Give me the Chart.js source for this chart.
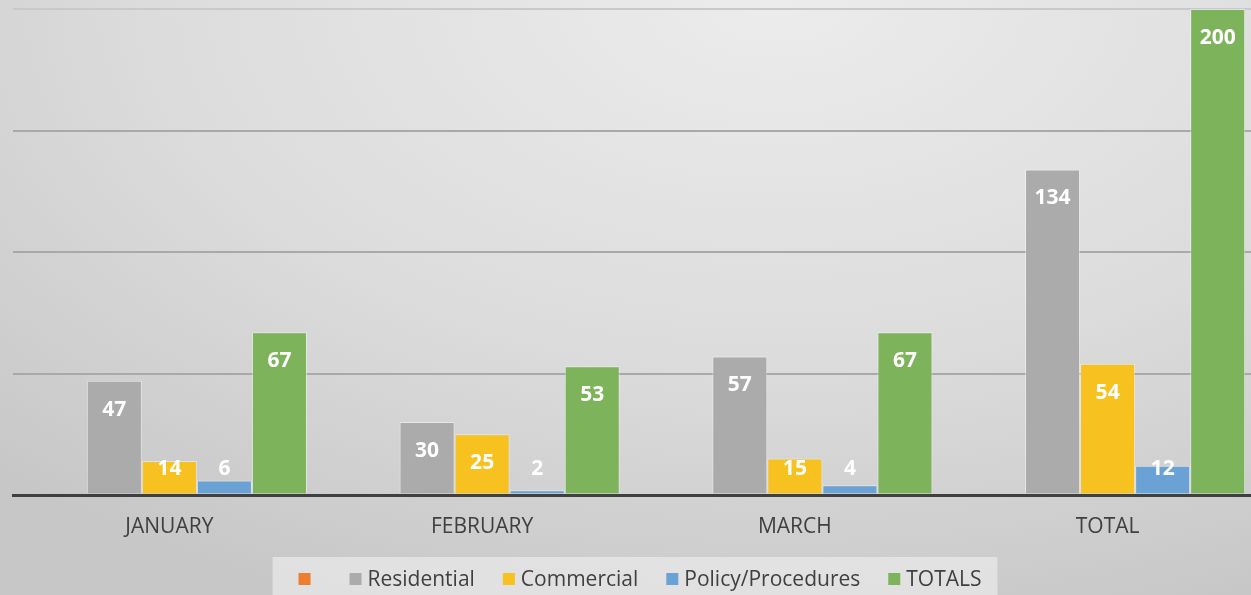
<!DOCTYPE html>
<html>
<head>
<meta charset="utf-8">
<script src="https://cdn.jsdelivr.net/npm/chart.js@4.4.1/dist/chart.umd.min.js"></script>
<style>
  html, body { margin: 0; padding: 0; overflow: hidden; }
  body {
    width: 1251px; height: 595px;
    background: radial-gradient(ellipse 90% 110% at 62% 0%, #ececec 0%, #dcdcdc 55%, #c7c7c7 100%);
  }
  #wrap { width: 1264px; height: 595px; position: relative; }
</style>
</head>
<body>
<div id="wrap"><canvas id="chart"></canvas></div>
<script>
const categories = ["JANUARY", "FEBRUARY", "MARCH", "TOTAL"];
const seriesNames = ["", "Residential", "Commercial", "Policy/Procedures", "TOTALS"];
const blank = [null, null, null, null];
const residential = [47, 30, 57, 134];
const commercial = [14, 25, 15, 54];
const policy = [6, 2, 4, 12];
const totals = [67, 53, 67, 200];
const colors = ["#ED7D31", "#ABABAB", "#F7C120", "#6AA2D5", "#7DB35A"];

const allValues = [blank, residential, commercial, policy, totals];

// white labels inside the top of each bar
const barLabels = {
  id: "barLabels",
  afterDatasetsDraw(chart) {
    const ctx = chart.ctx;
    ctx.save();
    ctx.font = "bold 21px 'Open Sans'";
    ctx.fillStyle = "#ffffff";
    ctx.textAlign = "center";
    ctx.textBaseline = "middle";
    chart.data.datasets.forEach((ds, i) => {
      chart.getDatasetMeta(i).data.forEach((bar, j) => {
        const v = ds.data[j];
        if (v == null) return;
        const y = Math.min(bar.y + 29, bar.base - 24);
        ctx.fillText(String(v), bar.x, y);
      });
    });
    ctx.restore();
  },
};

// legend drawn by hand in a gray box
const boxLegend = {
  id: "boxLegend",
  afterDraw(chart) {
    const ctx = chart.ctx;
    ctx.save();
    ctx.font = "21px 'Open Sans'";
    const box = 12, gap = 6, spacing = 28;
    const widths = seriesNames.map(n => box + (n ? gap + ctx.measureText(n).width : 11));
    const total = widths.reduce((a, b) => a + b, 0) + spacing * (widths.length - 1);
    const cx = 640;
    let x = cx - total / 2;
    ctx.fillStyle = "rgba(232,232,232,0.75)";
    ctx.fillRect(x - 26, 557, total + 26 + 16, 45);
    const cy = 579;
    ctx.textBaseline = "middle";
    seriesNames.forEach((n, i) => {
      ctx.fillStyle = colors[i];
      ctx.fillRect(x, cy - 6, box, box);
      if (n) {
        ctx.fillStyle = "#404040";
        ctx.fillText(n, x + box + gap, cy + 1);
      }
      x += widths[i] + spacing;
    });
    ctx.restore();
  },
};

new Chart(document.getElementById("chart"), {
  type: "bar",
  data: {
    labels: categories,
    datasets: seriesNames.map((n, i) => ({
      label: n,
      data: allValues[i],
      backgroundColor: colors[i],
      borderColor: "rgba(255,255,255,0.45)",
      borderWidth: 1,
      categoryPercentage: 0.88,
      barPercentage: 1.0,
    })),
  },
  options: {
    responsive: true,
    maintainAspectRatio: false,
    animation: false,
    layout: { padding: { top: 9, left: 13, right: 0, bottom: 0 } },
    plugins: {
      legend: { display: false },
      tooltip: { enabled: false },
    },
    scales: {
      x: {
        grid: { display: false, drawTicks: false },
        border: { display: true, color: "#404040", width: 3 },
        ticks: { color: "#404040", font: { family: "'Open Sans'", size: 21 }, padding: 19 },
        afterFit: s => { s.height = 100; },
      },
      y: {
        display: true,
        min: 0,
        max: 200,
        ticks: { display: false, stepSize: 50 },
        border: { display: false },
        grid: {
          drawTicks: false,
          color: c => (c.tick.value === 200 ? "#c9c9c9" : c.tick.value === 0 ? "#404040" : "#a9a9a9"),
          lineWidth: c => (c.tick.value === 0 ? 3 : 2),
        },
        afterFit: s => { s.width = 0; },
      },
    },
  },
  plugins: [barLabels, boxLegend],
});
</script>
</body>
</html>
